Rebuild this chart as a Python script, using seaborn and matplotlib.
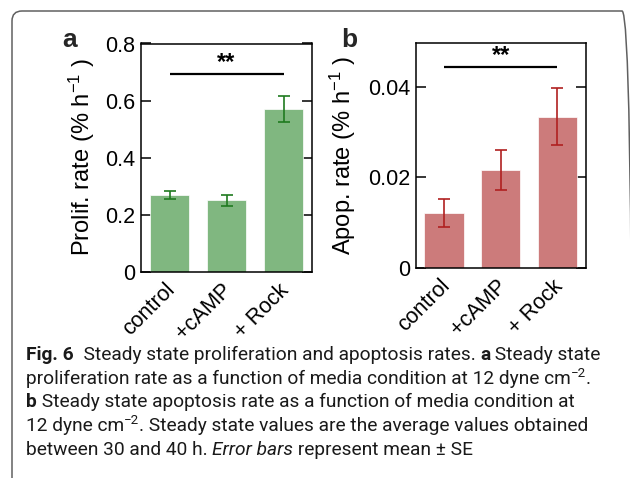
import matplotlib
matplotlib.use("Agg")
import matplotlib.pyplot as plt
import seaborn as sns
import numpy as np
import pandas as pd
from matplotlib.patches import FancyBboxPatch
from matplotlib.transforms import IdentityTransform, ScaledTranslation

# ---- data ----
conditions = ["control", "+cAMP", "+ Rock"]
prolif_mean = [0.268, 0.250, 0.571]
prolif_se = [0.014, 0.020, 0.045]
apop_mean = [0.0121, 0.0216, 0.0334]
apop_se = [0.0031, 0.0044, 0.0063]
prolif_ticks = [0, 0.2, 0.4, 0.6, 0.8]
prolif_ticklabels = ["0", "0.2", "0.4", "0.6", "0.8"]
apop_ticks = [0, 0.02, 0.04]
apop_ticklabels = ["0", "0.02", "0.04"]

sns.set_theme(style="white")
plt.rcParams["font.family"] = ["Liberation Sans", "DejaVu Sans"]
plt.rcParams["mathtext.fontset"] = "custom"
plt.rcParams["mathtext.rm"] = "Liberation Sans"
plt.rcParams["mathtext.it"] = "Liberation Sans:italic"
plt.rcParams["mathtext.bf"] = "Liberation Sans:bold"

W, H = 630, 478
fig = plt.figure(figsize=(W / 100, H / 100), dpi=100)
fig.patch.set_facecolor("white")

def ax_at(l, t, r, b):
    return fig.add_axes([l / W, 1 - b / H, (r - l) / W, (b - t) / H])

axa = ax_at(141, 43.5, 312, 271.7)
axb = ax_at(415.7, 42.7, 585.7, 267.7)

panels = [
    (axa, prolif_mean, prolif_se, "#80b780", "#1f7a1f", (0, 0.8), prolif_ticks,
     prolif_ticklabels, r"Prolif. rate (% h$^{-1}$ )", 0.694, 6),
    (axb, apop_mean, apop_se, "#cc7b7b", "#b02020", (0, 0.0498), apop_ticks,
     apop_ticklabels, r"Apop. rate (% h$^{-1}$ )", 0.0445, 7),
]

shift = ScaledTranslation(-5 / 100, -3 / 100, fig.dpi_scale_trans)

for ax, mean, se, col, ecol, ylim, ticks, tlabels, ylabel, sig_y, lpad in panels:
    df = pd.DataFrame({"cond": conditions, "val": mean})
    sns.barplot(data=df, x="cond", y="val", ax=ax, color=col, saturation=1,
                width=0.69, errorbar=None, edgecolor="white", linewidth=0.5)
    ax.errorbar(np.arange(len(conditions)), mean, yerr=se, fmt="none",
                ecolor=ecol, elinewidth=1.2, capsize=4, capthick=1.2)
    ax.set_xlim(-0.5, 2.5)
    ax.set_ylim(*ylim)
    ax.set_yticks(ticks)
    ax.set_yticklabels(tlabels, fontsize=15.5)
    ax.tick_params(axis="y", direction="in", length=7, width=1.1, right=True,
                   left=True, pad=4, color="black", labelcolor="black")
    ax.tick_params(axis="x", length=0, pad=3.5)
    ax.set_xticks(range(len(conditions)))
    ax.set_xticklabels(conditions, rotation=45, ha="right", va="top",
                       rotation_mode="anchor", fontsize=15.5, color="black")
    for lab in ax.get_xticklabels():
        lab.set_transform(lab.get_transform() + shift)
    ax.set_xlabel("")
    ax.set_ylabel(ylabel, fontsize=17, color="black", labelpad=lpad)
    for s in ax.spines.values():
        s.set_visible(True)
        s.set_color("black")
        s.set_linewidth(1.1)
    ax.plot([0, 2], [sig_y, sig_y], color="black", lw=1.6, solid_capstyle="butt")
    ax.text(1, sig_y, "**", ha="center", va="bottom", fontsize=17,
            fontweight="bold", color="black")

fig.text(62 / W, 1 - 40 / H, "a", fontsize=19, fontweight="bold", va="center")
fig.text(341 / W, 1 - 40 / H, "b", fontsize=19, fontweight="bold", va="center")

# frame around the figure (right and bottom edges fall outside the image)
frame = FancyBboxPatch((12, -60), 620, 467 + 60, boxstyle="round,pad=0,rounding_size=10",
                       transform=IdentityTransform(), fill=False, edgecolor="#606060",
                       linewidth=1.1, clip_on=False)
fig.patches.append(frame)

# caption with mixed formatting
cap_font = ["Liberation Sans Narrow", "Roboto", "DejaVu Sans"]
renderer = fig.canvas.get_renderer()
lines = [
    [("Fig. 6", "bold", "normal", False), ("  Steady state proliferation and apoptosis rates. ", "normal", "normal", False),
     ("a", "bold", "normal", False), (" Steady state", "normal", "normal", False)],
    [("proliferation rate as a function of media condition at 12 dyne cm", "normal", "normal", False),
     ("\u22122", "normal", "normal", True), (".", "normal", "normal", False)],
    [("b", "bold", "normal", False), (" Steady state apoptosis rate as a function of media condition at", "normal", "normal", False)],
    [("12 dyne cm", "normal", "normal", False), ("\u22122", "normal", "normal", True),
     (". Steady state values are the average values obtained", "normal", "normal", False)],
    [("between 30 and 40 h. ", "normal", "normal", False), ("Error bars", "normal", "italic", False),
     (" represent mean \u00b1 SE", "normal", "normal", False)],
]

def draw_line(line, x, yb, fs):
    arts = []
    for txt, wt, st, sup in line:
        size = fs * 0.7 if sup else fs
        y = yb - (fs * 0.5 if sup else 0)
        t = fig.text(x / W, 1 - y / H, txt, fontsize=size, fontweight=wt, fontstyle=st,
                     family=cap_font, va="baseline", ha="left", color="#1a1a1a")
        bb = t.get_window_extent(renderer=renderer)
        x += bb.width
        arts.append(t)
    return x, arts

# fit caption size so that lines 1-2 span about the same width as in the reference
x0 = 26
target_end = 603
widths = []
for ln in lines[:2]:
    xe, arts = draw_line(ln, x0, 1000, 10)
    for a in arts:
        a.remove()
    widths.append(xe - x0)
fs = 10 * (target_end - x0) / max(widths)

base0 = 360
step = 23.7
for i, line in enumerate(lines):
    draw_line(line, x0, base0 + i * step, fs)

fig.savefig("out.png", dpi=100, facecolor="white")
